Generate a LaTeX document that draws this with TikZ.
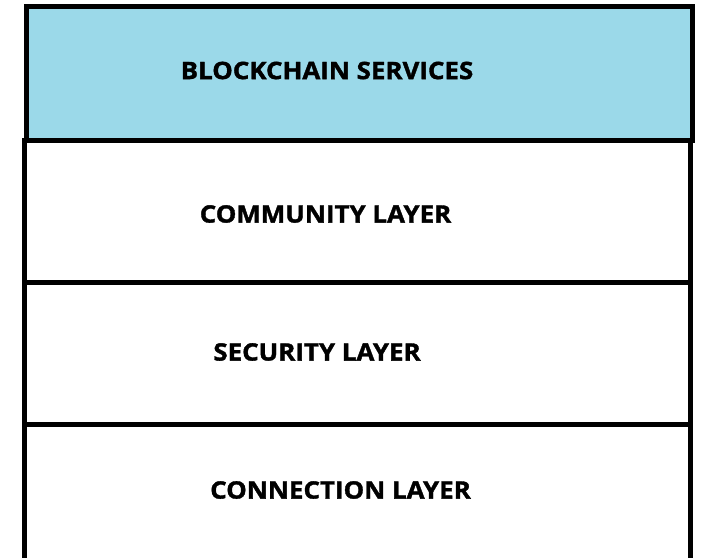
\documentclass[tikz,border=0pt]{standalone}
\usepackage{fontspec}
\setmainfont[FakeStretch=1.08,BoldFeatures={FakeBold=1.5}]{Open Sans}
\definecolor{svcblue}{RGB}{155,217,233}
\begin{document}
\begin{tikzpicture}[x=1pt,y=-1pt,
  layerbox/.style={draw=black,line width=5pt},
  lbl/.style={font=\bfseries\fontsize{24}{29}\selectfont,text=black,inner sep=0pt,anchor=center}]
\useasboundingbox (0,0) rectangle (704,557);
\begin{scope}
\clip (0,0) rectangle (704,557);
\draw[layerbox,fill=svcblue] (26.5,6.5) rectangle (692,140.5);
\draw[layerbox] (24.5,140.5) rectangle (690,282.5);
\draw[layerbox] (24.5,282.5) rectangle (690,424);
\draw[layerbox] (24.5,424) rectangle (690,600);
\end{scope}
\node[lbl] (svc) at (327,70.5) {BLOCKCHAIN SERVICES};
\node[lbl] (comm) at (325.5,214) {COMMUNITY LAYER};
\node[lbl] (sec) at (317,352) {SECURITY LAYER};
\node[lbl] (conn) at (340.5,490) {CONNECTION LAYER};
\end{tikzpicture}
\end{document}
